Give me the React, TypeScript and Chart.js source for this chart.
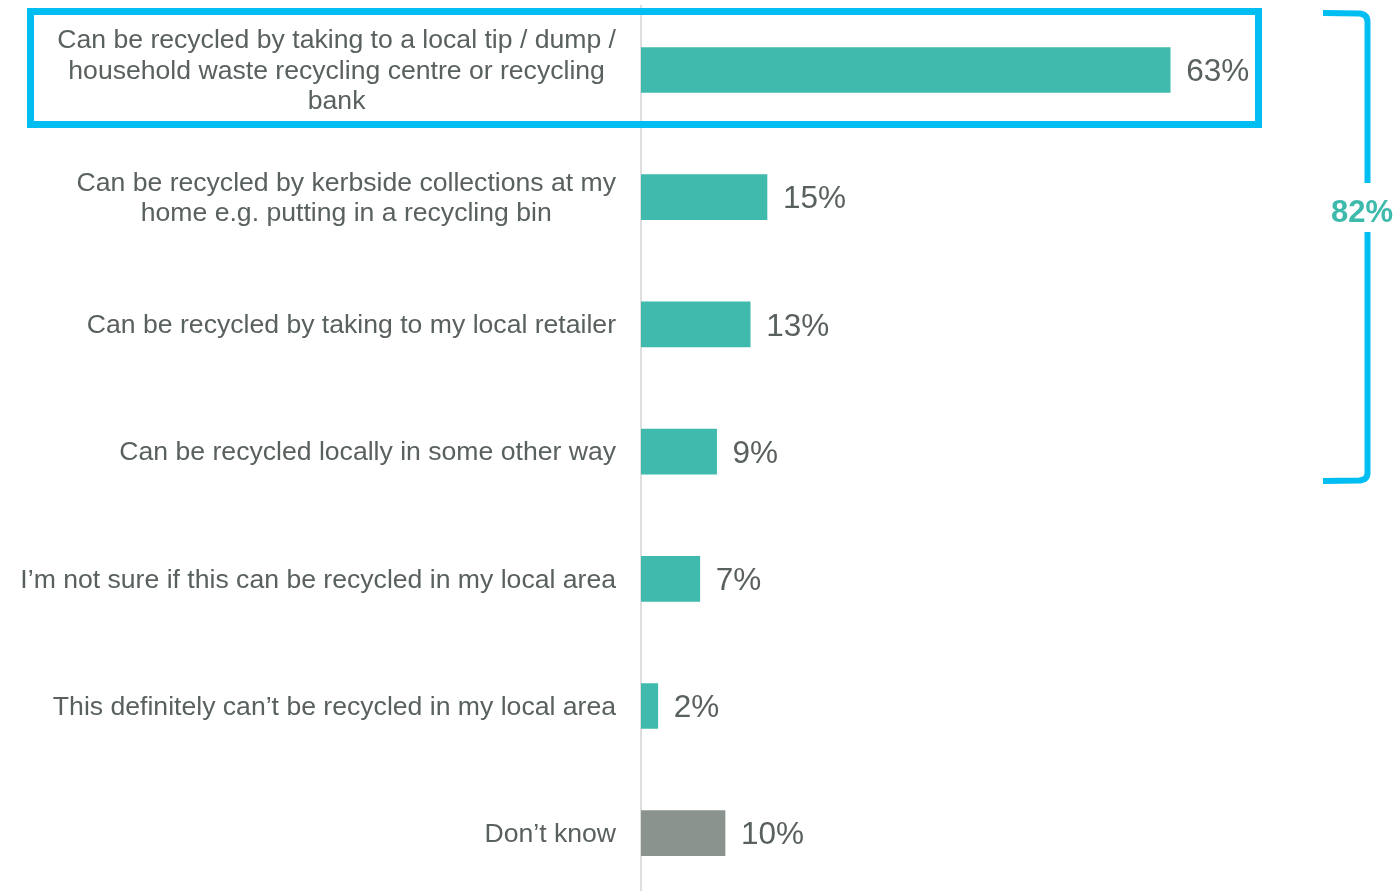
import React, { useEffect, useRef } from "react";
import { Chart, registerables } from "chart.js";

Chart.register(...registerables);

const categories: (string | string[])[] = [
  ["Can be recycled by taking to a local tip / dump /", "household waste recycling centre or recycling", "bank"],
  ["Can be recycled by kerbside collections at my", "home e.g. putting in a recycling bin"],
  "Can be recycled by taking to my local retailer",
  "Can be recycled locally in some other way",
  "I\u2019m not sure if this can be recycled in my local area",
  "This definitely can\u2019t be recycled in my local area",
  "Don\u2019t know",
];
const values: number[] = [63, 15, 13, 9, 7, 2, 10];
const valueLabels: string[] = ["63%", "15%", "13%", "9%", "7%", "2%", "10%"];
const barColors: string[] = ["#40BAAD", "#40BAAD", "#40BAAD", "#40BAAD", "#40BAAD", "#40BAAD", "#8B938E"];
const bracketLabel = "82%";

const FONT = "'Liberation Sans', Arial, sans-serif";
const TEXT = "#59615e";
const CYAN = "#00BDF2";

const overlayPlugin = {
  id: "overlay",
  beforeDraw(chart: any) {
    // center multi-line labels within their own block (block stays right-aligned)
    const scale = chart.scales.y;
    const items = scale.getLabelItems();
    const ctx = chart.ctx;
    ctx.save();
    items.forEach((item: any) => {
      let x = item.options.translation[0];
      const y = item.options.translation[1] + 1.5;
      if (Array.isArray(item.label)) {
        ctx.font = item.font.string;
        const w = Math.max(...item.label.map((l: string) => ctx.measureText(l).width));
        x -= w / 2;
        item.options.textAlign = "center";
      }
      item.options.translation = [x, y];
    });
    ctx.restore();
  },
  afterDatasetsDraw(chart: any) {
    const ctx = chart.ctx;
    const meta = chart.getDatasetMeta(0);
    ctx.save();
    ctx.font = `31.5px ${FONT}`;
    ctx.fillStyle = TEXT;
    ctx.textAlign = "left";
    ctx.textBaseline = "middle";
    meta.data.forEach((bar: any, i: number) => {
      ctx.fillText(valueLabels[i], bar.x + 16, bar.y + 2.5);
    });
    ctx.restore();
  },
  afterDraw(chart: any) {
    const ctx = chart.ctx;
    ctx.save();
    // highlight box around first item
    ctx.strokeStyle = CYAN;
    ctx.lineWidth = 7;
    ctx.strokeRect(30.5, 11.5, 1228, 113);
    // bracket
    ctx.lineWidth = 6;
    ctx.lineCap = "butt";
    ctx.beginPath();
    ctx.moveTo(1323, 13);
    ctx.lineTo(1359, 13.5);
    ctx.quadraticCurveTo(1367.5, 14, 1367.5, 22);
    ctx.lineTo(1367.5, 183);
    ctx.moveTo(1367.5, 232);
    ctx.lineTo(1367.5, 473);
    ctx.quadraticCurveTo(1367.5, 480, 1359, 480.5);
    ctx.lineTo(1323, 481);
    ctx.stroke();
    ctx.font = `bold 31px ${FONT}`;
    ctx.fillStyle = "#3DBAAC";
    ctx.textAlign = "center";
    ctx.textBaseline = "middle";
    ctx.fillText(bracketLabel, 1362, 213);
    ctx.restore();
  },
};

export default function App() {
  const ref = useRef<HTMLCanvasElement>(null);
  useEffect(() => {
    if (!ref.current) return;
    const chart = new Chart(ref.current, {
      type: "bar",
      data: {
        labels: categories,
        datasets: [
          {
            data: values,
            backgroundColor: barColors,
            borderWidth: 0,
            barThickness: 45,
          },
        ],
      },
      options: {
        indexAxis: "y",
        responsive: false,
        animation: false,
        devicePixelRatio: 1,
        layout: { padding: { top: 6.4, bottom: 3.2, left: 0, right: 0 } },
        plugins: { legend: { display: false }, tooltip: { enabled: false } },
        scales: {
          x: { display: false, min: 0, max: 90 },
          y: {
            grid: { display: false },
            border: { display: true, color: "#dedede", width: 2 },
            ticks: {
              padding: 17,
              color: TEXT,
              font: { family: FONT, size: 26.6, lineHeight: "30.5px" } as any,
              autoSkip: false,
            },
            afterFit(scale: any) {
              scale.width = 641;
              scale.paddingTop = 0;
              scale.paddingBottom = 0;
            },
          },
        },
      },
      plugins: [overlayPlugin],
    });
    return () => chart.destroy();
  }, []);
  return (
    <div style={{ position: "fixed", left: 0, top: 0, width: 1397, height: 891, overflow: "hidden", background: "#fff" }}>
      <canvas ref={ref} width={1397} height={900} style={{ width: 1397, height: 900, display: "block" }} />
    </div>
  );
}
